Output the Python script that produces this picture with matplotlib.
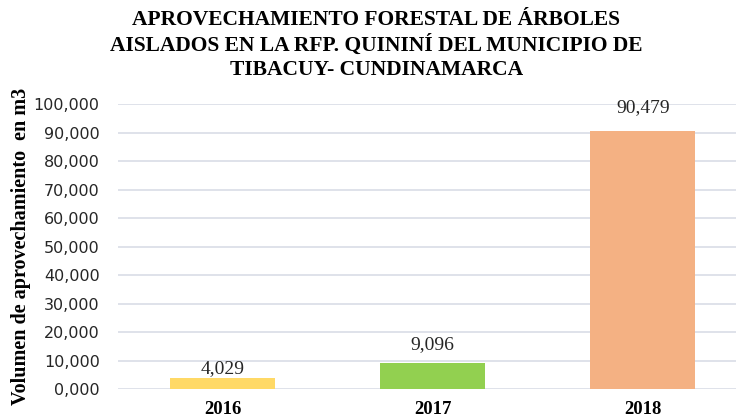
import matplotlib
matplotlib.use("Agg")
import matplotlib.pyplot as plt
from matplotlib.ticker import FuncFormatter

years = ["2016", "2017", "2018"]
volumen = [4.029, 9.096, 90.479]
colores = ["#FFD966", "#92D050", "#F4B183"]
titulo = "APROVECHAMIENTO FORESTAL DE ÁRBOLES\nAISLADOS EN LA RFP. QUININÍ DEL MUNICIPIO DE\nTIBACUY- CUNDINAMARCA"
ylabel = "Volumen de aprovechamiento  en m3"

def coma(v, pos=None):
    return ("%.3f" % v).replace(".", ",")

fig = plt.figure(figsize=(7.36, 4.19), dpi=100)
ax = fig.add_axes([0.160, 0.0716, 0.856, 0.680])

x = range(len(years))
bars = ax.bar(x, volumen, width=0.5, color=colores, zorder=3)
# the labels sit at slightly different heights in the original
desfase = [0, 7, 11]
for b, v, d in zip(bars, volumen, desfase):
    ax.annotate(coma(v), (b.get_x() + b.get_width() / 2, v), xytext=(0, d),
                textcoords="offset points", ha="center", va="bottom",
                fontsize=14, family="Liberation Serif", color="#262626")

ax.set_xlim(-0.5, 2.5)
ax.set_ylim(0, 100)
ax.set_yticks(range(0, 101, 10))
ax.yaxis.set_major_formatter(FuncFormatter(coma))
ax.set_xticks(list(x))
ax.set_xticklabels(years, fontsize=13.5, fontweight="bold", family="Liberation Serif")
for t in ax.get_yticklabels():
    t.set_family("DejaVu Sans")
    t.set_fontsize(11.5)
    t.set_color("#262626")
ax.tick_params(axis="both", length=0)
ax.tick_params(axis="x", pad=9)
ax.tick_params(axis="y", pad=13)
ax.grid(axis="y", color="#D9DDE6", linewidth=1.2, zorder=0)
for s in ax.spines.values():
    s.set_visible(False)

ax.set_ylabel(ylabel, fontsize=14.5, fontweight="bold", family="Liberation Serif")
ax.yaxis.set_label_coords(-0.137, 0.5)

fig.text(0.511, 0.975, titulo, ha="center", va="top", fontsize=15.5, fontweight="bold",
         family="Liberation Serif", linespacing=1.28)

fig.savefig("out.png", dpi=100)
